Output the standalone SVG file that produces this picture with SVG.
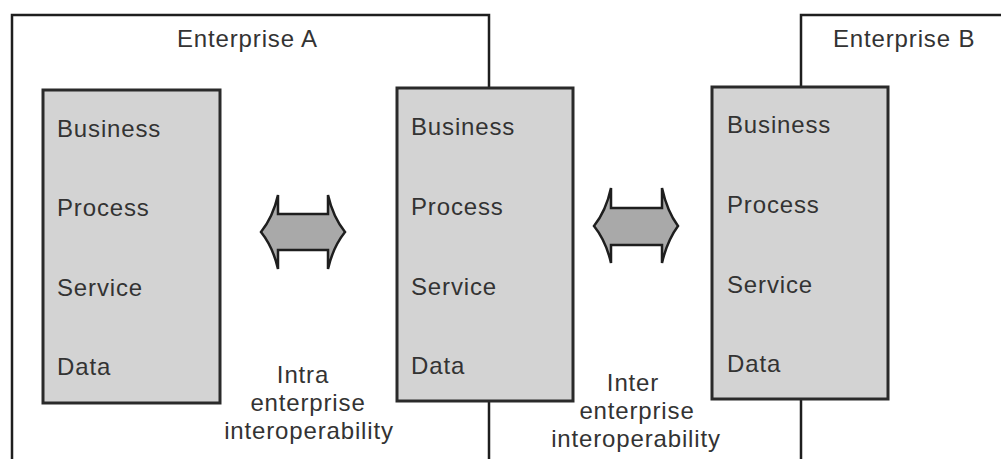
<svg xmlns="http://www.w3.org/2000/svg" width="1001" height="459" viewBox="0 0 1001 459">
<style>
.ent{fill:none;stroke:#1e1e1e;stroke-width:2.5}
.layer{fill:#d3d3d3;stroke:#2a2a2a;stroke-width:3}
.arrow{fill:#a9a9a9;stroke:#1e1e1e;stroke-width:2.5;stroke-linejoin:miter}
text{font-family:"Liberation Sans",Arial,sans-serif;font-size:24px;fill:#333;letter-spacing:0.85px}
.c{text-anchor:middle}
</style>
<rect width="1001" height="459" fill="#fff"/>
<g id="enterpriseA">
<path class="ent" d="M12,470 V15 H489 V470"/>
<text x="177" y="47">Enterprise A</text>
</g>
<g id="enterpriseB">
<path class="ent" d="M801,470 V15 H1010"/>
<text x="833" y="47">Enterprise B</text>
</g>
<g id="stackA1">
<rect class="layer" x="43" y="90" width="177" height="313"/>
<text x="57" y="137">Business</text>
<text x="57" y="216">Process</text>
<text x="57" y="296">Service</text>
<text x="57" y="375">Data</text>
</g>
<g id="stackA2">
<rect class="layer" x="397" y="88" width="176" height="313"/>
<text x="411" y="135">Business</text>
<text x="411" y="215">Process</text>
<text x="411" y="295">Service</text>
<text x="411" y="374">Data</text>
</g>
<g id="stackB">
<rect class="layer" x="712" y="87" width="176" height="312"/>
<text x="727" y="133">Business</text>
<text x="727" y="213">Process</text>
<text x="727" y="293">Service</text>
<text x="727" y="372">Data</text>
</g>
<g id="connectors">
<path class="arrow" d="M261,232 Q273,217 278,195 V214 H328 V195 Q333,217 345,232 Q333,247 328,269 V250 H278 V269 Q273,247 261,232 Z"/>
<path class="arrow" d="M594,226 Q606,211 611,188 V208 H662 V188 Q667,211 678,226 Q667,241 662,263 V245 H611 V263 Q606,241 594,226 Z"/>
</g>
<g id="labelIntra">
<text class="c" x="303" y="383">Intra</text>
<text class="c" x="308" y="411">enterprise</text>
<text class="c" x="309" y="439">interoperability</text>
</g>
<g id="labelInter">
<text class="c" x="633" y="391">Inter</text>
<text class="c" x="637" y="419">enterprise</text>
<text class="c" x="636" y="447">interoperability</text>
</g>
</svg>
